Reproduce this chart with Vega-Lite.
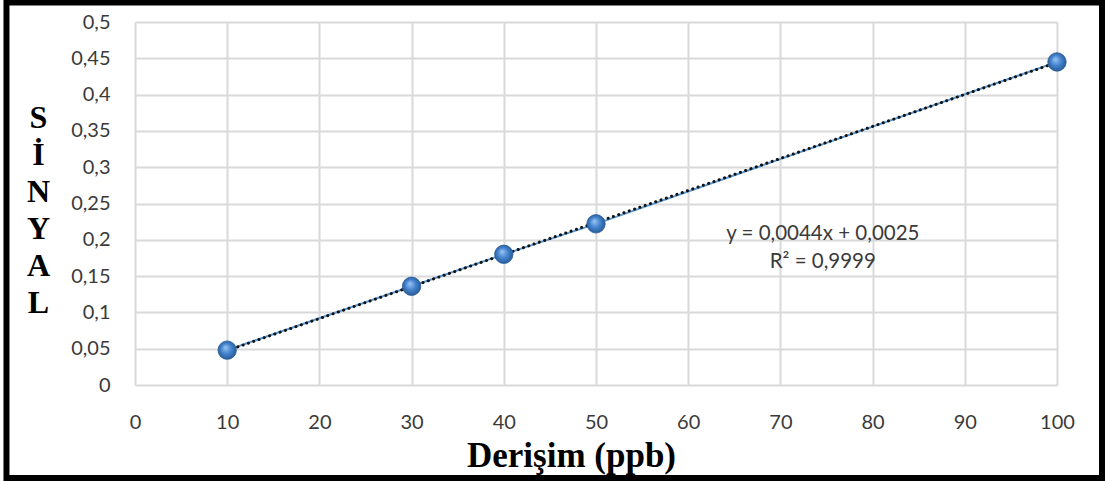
{
  "$schema": "https://vega.github.io/schema/vega-lite/v6.json",
  "width": 922,
  "height": 363,
  "autosize": "none",
  "padding": {"left": 135, "top": 22, "right": 49, "bottom": 96},
  "background": "white",
  "config": {
    "view": {"stroke": null},
    "axis": {"labelFont": "Lato", "labelFontSize": 20, "labelColor": "#3a3a3a", "gridColor": "#d9d9d9", "gridWidth": 2, "domain": false, "ticks": false, "labelOverlap": false, "labelFlush": false},
    "axisY": {"labelOverlap": false, "tickCount": 11, "values": [0,0.05,0.1,0.15,0.2,0.25,0.3,0.35,0.4,0.45,0.5]}
  },
  "datasets": {
    "pts": [
      {"x": 10, "y": 0.048},
      {"x": 30, "y": 0.136},
      {"x": 40, "y": 0.180},
      {"x": 50, "y": 0.222},
      {"x": 100, "y": 0.445}
    ],
    "notes": [
      {"x": 74.6, "y": 0.208, "label": "y = 0,0044x + 0,0025"},
      {"x": 74.6, "y": 0.169, "label": "R² = 0,9999"}
    ],
    "frame": [{"x0": -13.94, "x1": 104.88, "y0": 0.5269, "y1": -0.1281}]
  },
  "layer": [
    {
      "data": {"name": "pts"},
      "mark": {"type": "line", "color": "#5b9bd5", "strokeWidth": 2},
      "encoding": {
        "x": {"field": "x", "type": "quantitative",
          "scale": {"domain": [0, 100], "nice": false},
          "axis": {"values": [0,10,20,30,40,50,60,70,80,90,100], "labelPadding": 27,
            "title": "Derişim (ppb)", "titleFont": "Liberation Serif", "titleFontSize": 35, "titleFontWeight": "bold", "titleColor": "#000", "titlePadding": 6, "titleX": 436, "titleAnchor": null}},
        "y": {"field": "y", "type": "quantitative",
          "scale": {"domain": [0, 0.5], "nice": false, "zero": true},
          "axis": {"values": [0,0.05,0.1,0.15,0.2,0.25,0.3,0.35,0.4,0.45,0.5], "tickCount": 11, "labelExpr": "replace(format(datum.value, '.2~f'), '.', ',')", "labelPadding": 25, "labelOverlap": false,
            "title": ["S","İ","N","Y","A","L"], "titleFont": "Liberation Serif", "titleFontSize": 32, "titleFontWeight": "bold", "titleColor": "#000",
            "titleAngle": 0, "titleAlign": "center", "titleBaseline": "top", "titleLineHeight": 37, "titleX": -97, "titleY": 80}}
      }
    },
    {
      "data": {"name": "pts"},
      "transform": [{"regression": "y", "on": "x", "extent": [10, 100]}],
      "mark": {"type": "line", "color": "#111", "strokeWidth": 3, "strokeDash": [0.1, 5.5], "strokeCap": "round"},
      "encoding": {
        "x": {"field": "x", "type": "quantitative"},
        "y": {"field": "y", "type": "quantitative"}
      }
    },
    {
      "data": {"name": "pts"},
      "mark": {"type": "point", "filled": true, "size": 340, "opacity": 1, "strokeWidth": 0.8, "stroke": "#2b5d98",
        "fill": {"gradient": "radial", "x1": 0.4, "y1": 0.35, "r1": 0, "x2": 0.5, "y2": 0.5, "r2": 0.55,
          "stops": [{"offset": 0, "color": "#9cc6f2"}, {"offset": 0.5, "color": "#4585d0"}, {"offset": 1, "color": "#24558f"}]}},
      "encoding": {
        "x": {"field": "x", "type": "quantitative"},
        "y": {"field": "y", "type": "quantitative"}
      }
    },
    {
      "data": {"name": "notes"},
      "mark": {"type": "text", "font": "Lato", "fontSize": 20.5, "color": "#3a3a3a", "align": "center", "baseline": "middle"},
      "encoding": {
        "x": {"field": "x", "type": "quantitative"},
        "y": {"field": "y", "type": "quantitative"},
        "text": {"field": "label"}
      }
    },
    {
      "data": {"name": "frame"},
      "mark": {"type": "rect", "fill": null, "stroke": "#000", "strokeWidth": 6},
      "encoding": {
        "x": {"field": "x0", "type": "quantitative"},
        "x2": {"field": "x1"},
        "y": {"field": "y0", "type": "quantitative"},
        "y2": {"field": "y1"}
      }
    }
  ]
}
